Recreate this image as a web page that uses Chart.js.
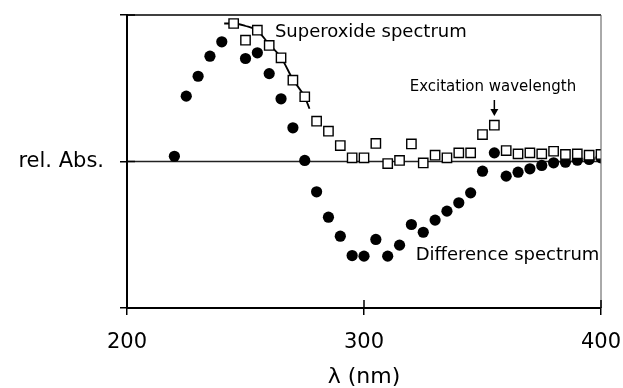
<!DOCTYPE html>
<html>
<head>
<meta charset="utf-8">
<script src="https://cdn.jsdelivr.net/npm/chart.js@4"></script>
<style>
  html, body { margin: 0; padding: 0; background: #fff; }
  canvas { display: block; }
</style>
</head>
<body>
<canvas id="spectrum" width="623" height="388"></canvas>
<script>
/************ 데이터 ************/
// difference spectrum (filled circles)
const diffWl = [220, 225, 230, 235, 240, 250, 255, 260, 265, 270, 275, 280, 285, 290, 295, 300,
  305, 310, 315, 320, 325, 330, 335, 340, 345, 350, 355, 360, 365, 370, 375, 380, 385, 390, 395, 400];
const diffAbs = [0.036, 0.446, 0.582, 0.719, 0.817, 0.703, 0.742, 0.60, 0.428, 0.23, 0.007, -0.207,
  -0.38, -0.51, -0.642, -0.646, -0.532, -0.646, -0.571, -0.43, -0.483, -0.40, -0.339, -0.282, -0.214,
  -0.066, 0.059, -0.10, -0.073, -0.05, -0.027, -0.009, -0.005, 0.009, 0.014, 0.025];

// superoxide spectrum (open squares)
const superWl = [245, 250, 255, 260, 265, 270, 275, 280, 285, 290, 295, 300, 305, 310, 315, 320,
  325, 330, 335, 340, 345, 350, 355, 360, 365, 370, 375, 380, 385, 390, 395, 400];
const superAbs = [0.942, 0.828, 0.896, 0.792, 0.708, 0.555, 0.442, 0.275, 0.207, 0.109, 0.025, 0.025,
  0.123, -0.014, 0.007, 0.12, -0.01, 0.043, 0.025, 0.059, 0.059, 0.184, 0.248, 0.075, 0.052, 0.059,
  0.052, 0.07, 0.048, 0.052, 0.043, 0.048];

// fitted curve drawn through the superoxide maximum
const fitWl = [241, 245, 250, 255, 260, 265, 270, 275, 277];
const fitAbs = [0.942, 0.942, 0.925, 0.893, 0.80, 0.71, 0.56, 0.44, 0.36];

// zero line
const baseWl = [200, 400];
const baseAbs = [0, 0];

// axis ticks
const xTicks = [200, 300, 400];
const yTicks = [-1, 0, 1];
const yTickText = { 0: 'rel. Abs.' };

const toXY = (xs, ys) => xs.map((x, i) => ({ x: x, y: ys[i] }));

/************ 주석 (텍스트, 화살표) ************/
const FONT = '"DejaVu Sans", "Liberation Sans", Arial, sans-serif';

const notesPlugin = {
  id: 'notes',
  afterDraw(chart) {
    const { ctx, chartArea: a, scales: { x, y } } = chart;
    ctx.save();

    // top and right frame
    ctx.strokeStyle = '#000';
    ctx.lineWidth = 1.5;
    ctx.beginPath();
    ctx.moveTo(a.left, a.top);
    ctx.lineTo(a.right, a.top);
    ctx.stroke();
    ctx.strokeStyle = '#555';
    ctx.lineWidth = 1;
    ctx.beginPath();
    ctx.moveTo(a.right, a.top);
    ctx.lineTo(a.right, a.bottom);
    ctx.stroke();

    // inward half of the tick marks
    ctx.strokeStyle = '#000';
    ctx.lineWidth = 1.5;
    xTicks.forEach(v => {
      const px = x.getPixelForValue(v);
      ctx.beginPath();
      ctx.moveTo(px, a.bottom);
      ctx.lineTo(px, a.bottom - 8);
      ctx.stroke();
    });
    yTicks.forEach(v => {
      const py = y.getPixelForValue(v);
      ctx.beginPath();
      ctx.moveTo(a.left, py);
      ctx.lineTo(a.left + 8, py);
      ctx.stroke();
    });

    // labels
    ctx.fillStyle = '#000';
    ctx.textBaseline = 'middle';
    ctx.textAlign = 'left';
    ctx.font = '18px ' + FONT;
    ctx.fillText('Superoxide spectrum', x.getPixelForValue(262.4), y.getPixelForValue(0.885));
    ctx.fillText('Difference spectrum', x.getPixelForValue(321.8), y.getPixelForValue(-0.64));
    ctx.textAlign = 'center';
    ctx.font = '15px ' + FONT;
    ctx.fillText('Excitation wavelength', x.getPixelForValue(354.4), y.getPixelForValue(0.51));

    // arrow towards the 355 nm point
    const ax = x.getPixelForValue(355);
    const y0 = y.getPixelForValue(0.42);
    const y1 = y.getPixelForValue(0.31);
    ctx.lineWidth = 1.5;
    ctx.beginPath();
    ctx.moveTo(ax, y0);
    ctx.lineTo(ax, y1 - 5);
    ctx.stroke();
    ctx.beginPath();
    ctx.moveTo(ax - 4, y1 - 7);
    ctx.lineTo(ax + 4, y1 - 7);
    ctx.lineTo(ax, y1);
    ctx.closePath();
    ctx.fill();

    ctx.restore();
  },
};

/************ 차트 ************/
const ctx = document.getElementById('spectrum');

const data = {
  datasets: [
    {
      label: 'Superoxide spectrum',
      data: toXY(superWl, superAbs),
      showLine: false,
      pointStyle: 'rect',
      pointRadius: 6.6,
      pointBackgroundColor: '#fff',
      pointBorderColor: '#000',
      pointBorderWidth: 1.4,
      order: 0,
    },
    {
      label: 'Difference spectrum',
      data: toXY(diffWl, diffAbs),
      showLine: false,
      pointStyle: 'circle',
      pointRadius: 5.6,
      pointBackgroundColor: '#000',
      pointBorderWidth: 0,
      order: 1,
    },
    {
      label: 'fit',
      data: toXY(fitWl, fitAbs),
      showLine: true,
      pointRadius: 0,
      borderColor: '#000',
      borderWidth: 1.8,
      cubicInterpolationMode: 'monotone',
      order: 2,
    },
    {
      label: 'zero',
      data: toXY(baseWl, baseAbs),
      showLine: true,
      pointRadius: 0,
      borderColor: '#222',
      borderWidth: 1.3,
      order: 3,
    },
  ],
};

const config = {
  type: 'scatter',
  data: data,
  options: {
    responsive: false,
    animation: false,
    events: [],
    layout: { padding: { top: 15, right: 22, left: 0, bottom: 0 } },
    scales: {
      x: {
        type: 'linear',
        min: 200,
        max: 400,
        afterBuildTicks: (s) => { s.ticks = xTicks.map(v => ({ value: v })); },
        afterFit: (s) => { s.height = 80; s.paddingLeft = 0; s.paddingRight = 0; },
        ticks: {
          color: '#000',
          padding: 17,
          font: { family: FONT, size: 21, lineHeight: 1 },
        },
        grid: {
          drawOnChartArea: false,
          tickLength: 7,
          color: '#000',
          lineWidth: 1.5,
        },
        border: { color: '#000', width: 2 },
        title: {
          display: true,
          text: 'λ (nm)',
          color: '#000',
          padding: { top: 0, bottom: 0 },
          font: { family: FONT, size: 22, lineHeight: 1 },
        },
      },
      y: {
        type: 'linear',
        min: -1,
        max: 1,
        afterBuildTicks: (s) => { s.ticks = yTicks.map(v => ({ value: v })); },
        afterFit: (s) => { s.width = 127; s.paddingTop = 0; s.paddingBottom = 0; },
        ticks: {
          color: '#000',
          padding: 16,
          font: { family: FONT, size: 21, lineHeight: 1 },
          callback: (v) => yTickText[v] || '',
        },
        grid: {
          drawOnChartArea: false,
          tickLength: 7,
          color: '#000',
          lineWidth: 1.5,
        },
        border: { color: '#000', width: 2 },
      },
    },
    plugins: {
      legend: { display: false },
      tooltip: { enabled: false },
    },
  },
  plugins: [notesPlugin],
};

new Chart(ctx, config);
</script>
</body>
</html>
